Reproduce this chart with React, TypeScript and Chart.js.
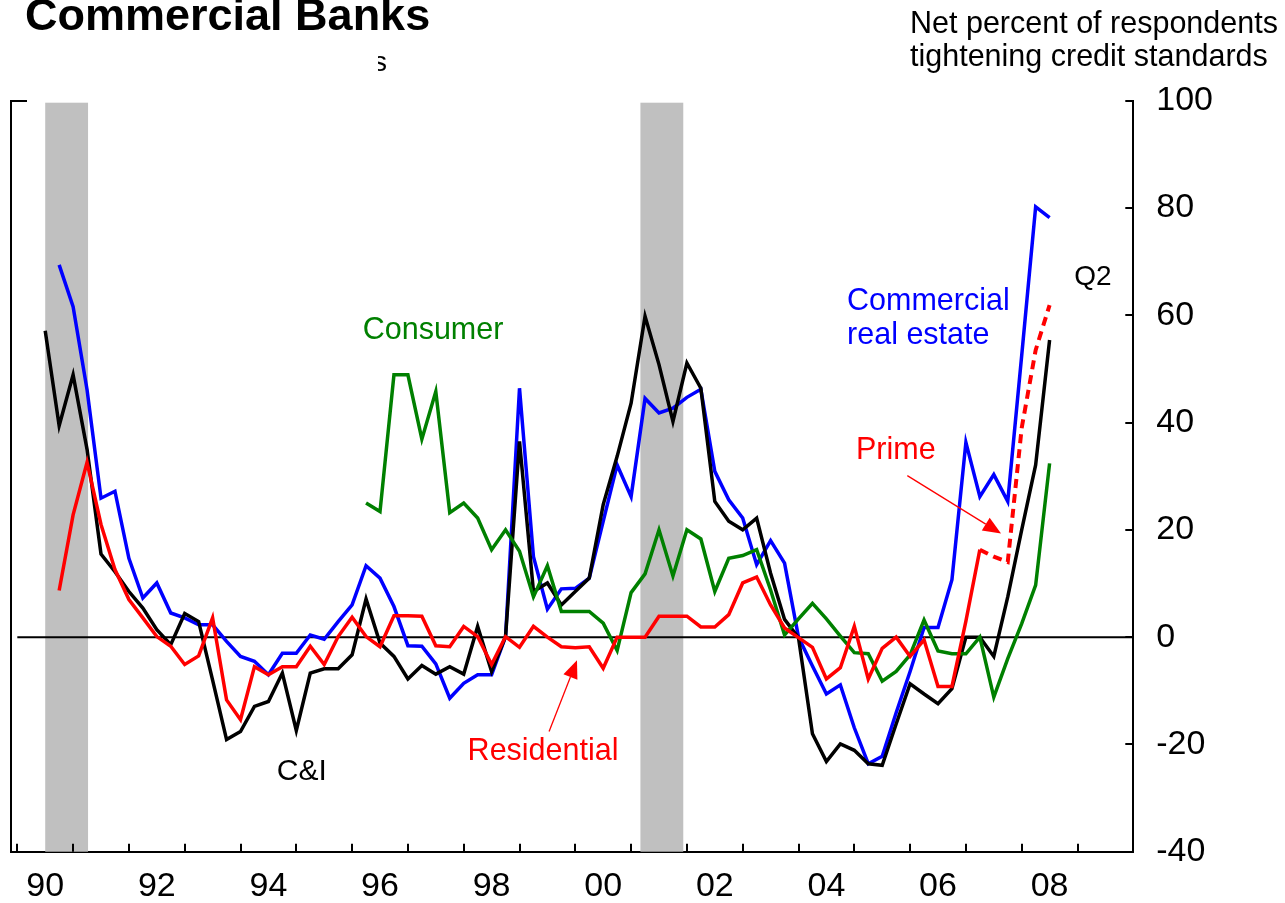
import React, { useEffect, useRef } from "react";
import { Chart, registerables } from "chart.js";

Chart.register(...registerables);

// ---------- data ----------
const START_YEAR = 1990;
const START_QUARTER = 2;
const N_QUARTERS = 73;
const quarters: string[] = Array.from({ length: N_QUARTERS }, (_, i) => {
  const q0 = START_QUARTER - 1 + i;
  return `${START_YEAR + Math.floor(q0 / 4)}Q${(q0 % 4) + 1}`;
});
const N = null;

const ciData: (number | null)[] = [
  57.1, 39.4, 48.9, 35, 15.5, 12.2, 8.5, 5.4, 1.4, -1.4,
  4.4, 2.9, -8, -19.1, -17.6, -12.9, -12.0, -6.7, -17.4, -6.7,
  -5.9, -5.9, -3.3, 7.1, -1.1, -3.6, -7.8, -5.3, -6.9, -5.5,
  -6.9, 2.0, -6.4, 0.1, 36.5, 8.5, 10.1, 6.0, 8.5, 11.0,
  24.7, 33.7, 43.6, 59.8, 50.8, 40.2, 51.1, 46.4, 25.3, 21.6,
  20.0, 22.2, 11.9, 3.3, -0.1, -18.0, -23.2, -19.9, -21.1, -23.6,
  -23.9, -16.2, -8.7, -10.6, -12.4, -9.6, 0, 0, -3.6, 7.5,
  20.0, 32.1, 55.4,
];

const creData: (number | null)[] = [
  N, 69.4, 61.6, 46.1, 25.9, 27.2, 14.7, 7.3, 10.1, 4.5,
  3.6, 2.3, 2.3, -0.8, -3.6, -4.5, -7.0, -3.0, -3.0, 0.4,
  -0.4, 2.9, 6.0, 13.3, 11.0, 5.7, -1.6, -1.7, -5.0, -11.4,
  -8.6, -7.0, -7.0, 0.1, 46.4, 15.0, 5.2, 9.0, 9.1, 11.0,
  21.6, 32.1, 26.2, 44.5, 41.8, 42.7, 44.7, 46.2, 30.9, 25.6,
  22.2, 13.5, 18.0, 13.8, 0, -5.4, -10.6, -8.9, -16.9, -23.6,
  -22.2, -14.1, -6.4, 1.8, 1.8, 10.7, 36.3, 26.2, 30.3, 25.3,
  52.5, 80.2, 78.2,
];

const residentialData: (number | null)[] = [
  N, 8.7, 22.8, 32.6, 21, 12.6, 7.0, 3.6, 0.1, -1.7,
  -5.1, -3.5, 3.6, -11.7, -15.4, -5.5, -7.0, -5.5, -5.5, -1.7,
  -5.1, 0.1, 3.7, 0.1, -1.8, 4.0, 4.0, 3.9, -1.6, -1.8,
  2.0, 0.1, -5.1, 0.1, -1.9, 2.0, 0, -1.8, -2.0, -1.8,
  -5.8, 0, 0, 0, 3.9, 3.9, 3.9, 1.9, 1.9, 4.2,
  10.1, 11.2, 6.0, 1.7, -0.1, -1.9, -7.8, -5.7, 2.0, -7.8,
  -2.1, 0, -3.6, -0.5, -9.2, -9.2, 3, 16.3, N, N,
  N, N, N,
];

const primeData: (number | null)[] = [
  ...Array(67).fill(N),
  16.3, 15.0, 14.0, 39, 53.5, 61.9,
];

const consumerData: (number | null)[] = [
  ...Array(23).fill(N),
  25.0, 23.4, 48.9, 48.9, 36.9, 45.8, 23.2,
  25.0, 22.2, 16.3, 20.0, 16.0, 7.5, 13.3, 4.8, 4.8, 4.8,
  2.6, -2.5, 8.3, 11.8, 20.0, 11.4, 20.0, 18.3, 8.5, 14.7,
  15.2, 16.3, 8.8, 0.4, 3.4, 6.3, 3.4, 0.2, -2.9, -3.1,
  -8.2, -6.4, -3.3, 3.2, -2.6, -3.1, -3.1, 0, -11.2, -4,
  2.5, 9.7, 32.4,
];

const recessionStarts = [1990.5, 2001.167];
const recessionEnds = [1991.25, 2001.917];

const xLabelYears = [1990, 1992, 1994, 1996, 1998, 2000, 2002, 2004, 2006, 2008];
const xTickLabels = ["90", "92", "94", "96", "98", "00", "02", "04", "06", "08"];
const xTickYears = Array.from({ length: 20 }, (_, i) => 1990 + i);
const yTickValues = [-40, -20, 0, 20, 40, 60, 80, 100];

// ---------- helpers ----------
const FONT = '"Liberation Sans", Arial, Helvetica, sans-serif';
const qx = (q: string) => Number(q.slice(0, 4)) + Number(q.slice(5)) / 4;
const toPoints = (arr: (number | null)[]) =>
  quarters.map((q, i) => ({ x: qx(q), y: arr[i] }));

// annotation layout (data coordinates)
const textLabels = [
  { text: "Consumer", color: "#008000", x: 1996.19, y: 57.1, size: 30.5 },
  { text: "Commercial", color: "#0000ff", x: 2004.87, y: 62.5, size: 30.5 },
  { text: "real estate", color: "#0000ff", x: 2004.87, y: 56.3, size: 30.5 },
  { text: "Prime", color: "#ff0000", x: 2005.03, y: 34.7, size: 30.5 },
  { text: "C&I", color: "#000000", x: 1994.65, y: -25.1, size: 30 },
  { text: "Residential", color: "#ff0000", x: 1998.07, y: -21.3, size: 30.5 },
  { text: "Q2", color: "#000000", x: 2008.94, y: 67.0, size: 28 },
];
const arrows = [
  { x0: 2005.95, y0: 30.1, x1: 2007.63, y1: 19.3, color: "#ff0000" },
  { x0: 1999.53, y0: -17.6, x1: 2000.03, y1: -4.3, color: "#ff0000" },
];

function drawArrow(ctx: CanvasRenderingContext2D, x0: number, y0: number, x1: number, y1: number, color: string) {
  const dx = x1 - x0, dy = y1 - y0;
  const len = Math.hypot(dx, dy);
  const ux = dx / len, uy = dy / len;
  const hl = 18, hw = 7.5;
  const bx = x1 - ux * hl, by = y1 - uy * hl;
  ctx.save();
  ctx.strokeStyle = color;
  ctx.fillStyle = color;
  ctx.lineWidth = 1.3;
  ctx.beginPath();
  ctx.moveTo(x0, y0);
  ctx.lineTo(bx, by);
  ctx.stroke();
  ctx.beginPath();
  ctx.moveTo(x1, y1);
  ctx.lineTo(bx - uy * hw, by + ux * hw);
  ctx.lineTo(bx + uy * hw, by - ux * hw);
  ctx.closePath();
  ctx.fill();
  ctx.restore();
}

const overlayPlugin = {
  id: "overlay",
  beforeDatasetsDraw(chart: any) {
    const { ctx, chartArea: ca, scales } = chart;
    const x = scales.x;
    ctx.save();
    ctx.fillStyle = "#c0c0c0";
    recessionStarts.forEach((s, i) => {
      const a = x.getPixelForValue(s);
      const b = x.getPixelForValue(recessionEnds[i]);
      ctx.fillRect(a, ca.top + 2, b - a + 1, ca.bottom - ca.top - 2);
    });
    ctx.restore();
  },
  afterDraw(chart: any) {
    const { ctx, chartArea: ca, scales } = chart;
    const x = scales.x, y = scales.y;
    ctx.save();
    ctx.strokeStyle = "#000";
    ctx.lineWidth = 2;
    ctx.beginPath();
    xTickYears.forEach((yr) => {
      const px = Math.round(x.getPixelForValue(yr));
      ctx.moveTo(px, ca.bottom);
      ctx.lineTo(px, ca.bottom - 8);
    });
    yTickValues.forEach((v) => {
      const py = Math.round(y.getPixelForValue(v));
      ctx.moveTo(ca.right, py);
      ctx.lineTo(ca.right - 8, py);
    });
    [100, -40].forEach((v) => {
      const py = Math.round(y.getPixelForValue(v));
      ctx.moveTo(ca.left - 1, py);
      ctx.lineTo(ca.left + 16, py);
    });
    ctx.stroke();

    ctx.textBaseline = "middle";
    ctx.textAlign = "left";
    textLabels.forEach((t) => {
      ctx.font = `${t.size}px ${FONT}`;
      ctx.fillStyle = t.color;
      ctx.fillText(t.text, x.getPixelForValue(t.x), y.getPixelForValue(t.y));
    });
    arrows.forEach((a) =>
      drawArrow(ctx, x.getPixelForValue(a.x0), y.getPixelForValue(a.y0), x.getPixelForValue(a.x1), y.getPixelForValue(a.y1), a.color)
    );

    // headings
    ctx.textBaseline = "alphabetic";
    ctx.fillStyle = "#000";
    ctx.font = `bold 45px ${FONT}`;
    ctx.fillText("Commercial Banks", 25, 30);
    ctx.font = `30.5px ${FONT}`;
    ctx.fillText("Net percent of respondents", 910, 33);
    ctx.fillText("tightening credit standards", 910, 66);
    ctx.save();
    ctx.beginPath();
    ctx.rect(378, 40, 20, 40);
    ctx.clip();
    ctx.font = `28px ${FONT}`;
    ctx.fillText("s", 373, 71);
    ctx.restore();
    ctx.restore();
  },
};

export default function App() {
  const ref = useRef<HTMLCanvasElement | null>(null);
  useEffect(() => {
    document.body.style.margin = "0";
    const canvas = ref.current!;
    const common = { pointRadius: 0, borderWidth: 3.5, tension: 0, spanGaps: false, fill: false, yAxisID: "y" };
    const chart = new Chart(canvas, {
      type: "line",
      data: {
        datasets: [
          { ...common, label: "Zero", data: [{ x: 1990, y: 0 }, { x: 2010, y: 0 }], borderColor: "#000", borderWidth: 2, order: 6 },
          { ...common, label: "Commercial real estate", data: toPoints(creData), borderColor: "#0000ff", order: 5 },
          { ...common, label: "C&I", data: toPoints(ciData), borderColor: "#000000", order: 4 },
          { ...common, label: "Consumer", data: toPoints(consumerData), borderColor: "#008000", order: 3 },
          { ...common, label: "Residential", data: toPoints(residentialData), borderColor: "#ff0000", order: 2 },
          { ...common, label: "Prime", data: toPoints(primeData), borderColor: "#ff0000", borderDash: [9, 6], borderWidth: 4, order: 1 },
        ] as any,
      },
      options: {
        responsive: false,
        animation: false,
        layout: { padding: { left: 11, top: 100.7, right: 0, bottom: 0 } },
        plugins: { legend: { display: false }, tooltip: { enabled: false }, title: { display: false } },
        scales: {
          x: {
            type: "linear",
            position: "bottom",
            min: 1989.887,
            max: 2010,
            afterBuildTicks: (axis: any) => {
              axis.ticks = xLabelYears.map((v) => ({ value: v + 0.5 }));
            },
            afterFit: (axis: any) => {
              axis.height = 903 - 851.7;
            },
            ticks: {
              autoSkip: false,
              maxRotation: 0,
              padding: 15,
              color: "#000",
              font: { family: FONT, size: 34 },
              callback: (v: any) => xTickLabels[xLabelYears.indexOf(Math.floor(Number(v)))] ?? "",
            },
            grid: { display: false, drawTicks: false },
            border: { display: true, color: "#000", width: 2 },
          },
          y: {
            position: "right",
            min: -40,
            max: 100,
            afterBuildTicks: (axis: any) => {
              axis.ticks = yTickValues.map((v) => ({ value: v }));
            },
            afterFit: (axis: any) => {
              axis.width = 1285 - 1133.3;
            },
            ticks: {
              padding: 23,
              color: "#000",
              font: { family: FONT, size: 34 },
              callback: (v: any) => String(v),
            },
            grid: { display: false, drawTicks: false },
            border: { display: true, color: "#000", width: 2 },
          },
          yl: {
            position: "left",
            min: -40,
            max: 100,
            afterFit: (axis: any) => {
              axis.width = 0;
            },
            ticks: { display: false },
            grid: { display: false, drawTicks: false },
            border: { display: true, color: "#000", width: 2 },
          },
        },
      } as any,
      plugins: [overlayPlugin],
    });
    return () => chart.destroy();
  }, []);
  return (
    <div style={{ width: 1285, height: 903, background: "#fff" }}>
      <canvas ref={ref} width={1285} height={903} style={{ display: "block" }} />
    </div>
  );
}
